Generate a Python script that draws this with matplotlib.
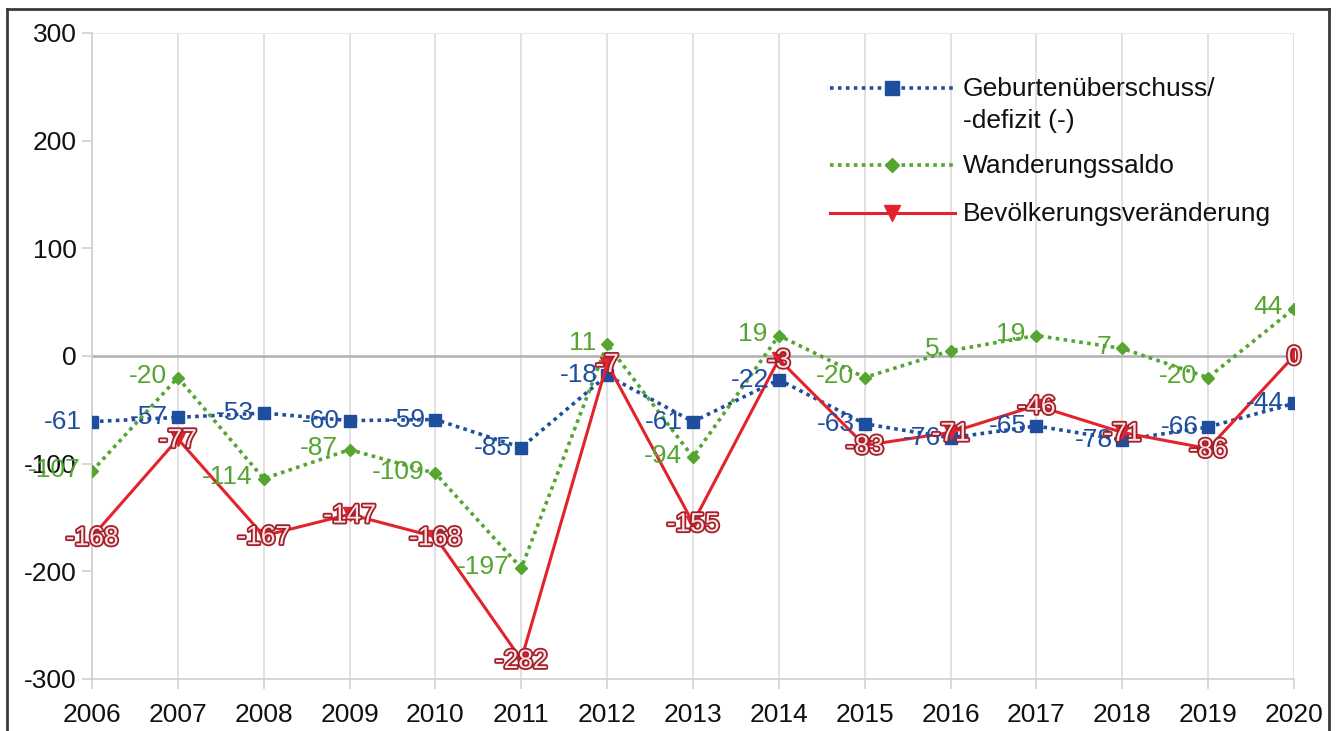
import matplotlib
matplotlib.use('Agg')
import matplotlib.pyplot as plt
import matplotlib.patheffects as pe
from matplotlib.lines import Line2D
from matplotlib.ticker import FuncFormatter

plt.rcParams['font.family'] = ['Liberation Sans', 'DejaVu Sans']

# Data
years = list(range(2006, 2021))
geburten = [-61, -57, -53, -60, -59, -85, -18, -61, -22, -63, -76, -65, -78, -66, -44]
wanderung = [-107, -20, -114, -87, -109, -197, 11, -94, 19, -20, 5, 19, 7, -20, 44]
bevoelkerung = [-168, -77, -167, -147, -168, -282, -7, -155, -3, -83, -71, -46, -71, -86, 0]

labels = ['Geburtenüberschuss/\n-defizit (-)', 'Wanderungssaldo', 'Bevölkerungsveränderung']
yticks = [-300, -200, -100, 0, 100, 200, 300]

blue = '#1f4e9e'
green = '#55a530'
red = '#e3232b'
fs = 19

fig = plt.figure(figsize=(13.39, 7.31), dpi=100)
ax = fig.add_axes([92/1339, 1 - 679/731, (1294 - 92)/1339, (679 - 33)/731])

# grid
for y in years:
    ax.axvline(y, color='#dcdcdc', lw=1.2, zorder=0)
ax.axhline(0, color='#b0b0b0', lw=1.8, zorder=0)
ax.axhline(300, color='#e6e6e6', lw=1.2, zorder=0)

styles = [
    dict(color=blue, ls=(0, (1, 1.2)), lw=2.6, marker='s', ms=9),
    dict(color=green, ls=(0, (1, 1.2)), lw=2.6, marker='D', ms=6.5),
    dict(color=red, ls='-', lw=2.2, marker='v', ms=10),
]
ax.plot(years, geburten, zorder=3, **styles[0])
ax.plot(years, wanderung, zorder=3, **styles[1])
ax.plot(years, bevoelkerung, zorder=4, **styles[2])

# data labels
for x, v in zip(years, geburten):
    ax.annotate(f'{v}', (x, v), xytext=(-7, 0), textcoords='offset points',
                ha='right', va='center', fontsize=fs, color=blue, zorder=5)
for x, v in zip(years, wanderung):
    ax.annotate(f'{v}', (x, v), xytext=(-8, 1), textcoords='offset points',
                ha='right', va='center', fontsize=fs, color=green, zorder=5)
for x, v in zip(years, bevoelkerung):
    t = ax.annotate(f'{v}', (x, v), xytext=(0, -1), textcoords='offset points',
                    ha='center', va='center', fontsize=fs, color='#fbe3e4', zorder=6)
    t.set_path_effects([pe.withStroke(linewidth=2.6, foreground='#a3202b')])

ax.set_xlim(2006, 2020)
ax.set_ylim(-300, 300)
ax.set_xticks(years)
ax.set_yticks(yticks)
ax.yaxis.set_major_formatter(FuncFormatter(lambda v, p: f'{int(v)}'))
ax.tick_params(axis='both', which='both', labelsize=fs, length=7, width=1.2,
               color='#cfcfcf', direction='out', labelcolor='#111111')
ax.tick_params(axis='y', pad=4)
ax.tick_params(axis='x', pad=10)
for side in ['left', 'bottom']:
    ax.spines[side].set_color('#cfcfcf')
    ax.spines[side].set_linewidth(1.2)
for side in ['top', 'right']:
    ax.spines[side].set_visible(False)

# legend (handle aligned with first text line, as in the original)
W, H = 1339, 731
rows = [88, 165, 213]
for st, lab, ry in zip(styles, labels, rows):
    fy = 1 - ry / H
    fig.add_artist(Line2D([830/W, 955/W], [fy, fy], color=st['color'], ls=st['ls'],
                          lw=st['lw'], transform=fig.transFigure))
    fig.add_artist(Line2D([892/W], [fy], color=st['color'], marker=st['marker'],
                          ms=st['ms'] * 1.1, transform=fig.transFigure))
    fig.text(963/W, fy + 11/H, lab, fontsize=fs, color='#111111', ha='left', va='top',
             linespacing=1.42)

# outer frame
fc = '#3a3a3a'
fig.add_artist(Line2D([7/W, 1329/W], [1 - 9/H, 1 - 9/H], color=fc, lw=2,
                      transform=fig.transFigure))
fig.add_artist(Line2D([7/W, 7/W], [0, 1 - 9/H], color=fc, lw=2,
                      transform=fig.transFigure))
fig.add_artist(Line2D([1329/W, 1329/W], [0, 1 - 9/H], color=fc, lw=2,
                      transform=fig.transFigure))

fig.savefig('out.png', dpi=100)
